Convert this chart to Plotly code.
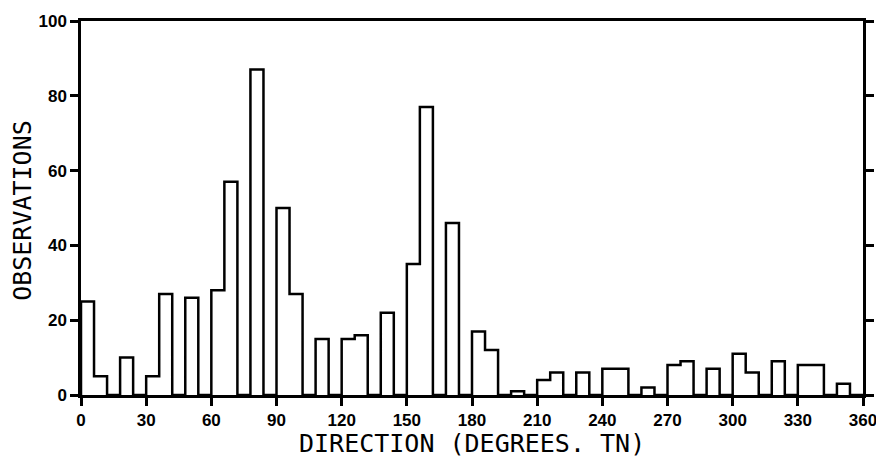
import numpy as np
import plotly.graph_objects as go

# Direction histogram: 6-degree bins from 0 to 360 degrees (true north)
BIN_WIDTH = 6
counts = [
    25, 5, 0, 10, 0, 5, 27, 0, 26, 0,      # 0-60
    28, 57, 0, 87, 0, 50, 27, 0, 15, 0,    # 60-120
    15, 16, 0, 22, 0, 35, 77, 0, 46, 0,    # 120-180
    17, 12, 0, 1, 0, 4, 6, 0, 6, 0,        # 180-240
    7, 7, 0, 2, 0, 8, 9, 0, 7, 0,          # 240-300
    11, 6, 0, 9, 0, 8, 8, 0, 3, 0,         # 300-360
]
x_ticks = [0, 30, 60, 90, 120, 150, 180, 210, 240, 270, 300, 330, 360]
y_ticks = [0, 20, 40, 60, 80, 100]

edges = np.arange(0, 360 + BIN_WIDTH, BIN_WIDTH)

# Stair-step outline of the histogram, starting and ending on the baseline
step_x = [0] + list(edges)
step_y = [0] + list(counts) + [0]

fig = go.Figure()
fig.add_trace(go.Scatter(
    x=step_x, y=step_y, mode="lines",
    line=dict(shape="hv", color="black", width=2.5),
    hoverinfo="skip", showlegend=False,
))

tick_font = dict(family="Liberation Sans", size=17, color="black", weight="bold")
title_font = dict(family="DejaVu Sans Mono", size=25, color="black")

fig.update_xaxes(
    range=[0, 360], tickvals=x_ticks, ticktext=[str(v) for v in x_ticks],
    ticks="outside", ticklen=8, tickwidth=2.5, tickcolor="black",
    showline=True, linecolor="black", linewidth=2.5, mirror=True,
    showgrid=False, zeroline=False, tickfont=tick_font, automargin=False,
    ticklabeloverflow="allow",
)
fig.update_yaxes(
    range=[0, 100], tickvals=y_ticks, ticktext=[str(v) for v in y_ticks],
    ticks="outside", ticklen=8, tickwidth=2.5, tickcolor="black",
    showline=True, linecolor="black", linewidth=2.5, mirror="ticks",
    showgrid=False, zeroline=False, tickfont=tick_font, automargin=False,
)

fig.add_annotation(
    text="DIRECTION (DEGREES. TN)", xref="paper", yref="paper",
    x=0.5, y=-0.131, xanchor="center", yanchor="middle",
    showarrow=False, font=title_font,
)
fig.add_annotation(
    text="OBSERVATIONS", xref="paper", yref="paper",
    x=-0.0742, y=0.495, xanchor="center", yanchor="middle",
    textangle=-90, showarrow=False, font=title_font,
)

fig.update_layout(
    width=876, height=457,
    margin=dict(l=81, r=13, t=21, b=62),
    paper_bgcolor="white", plot_bgcolor="white",
    showlegend=False,
)

fig.write_html("out.html")
